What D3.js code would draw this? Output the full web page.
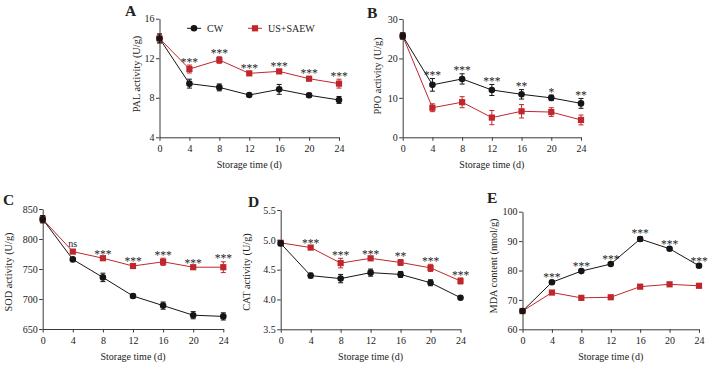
<!DOCTYPE html>
<html><head><meta charset="utf-8">
<script src="https://cdn.jsdelivr.net/npm/d3@7"></script>
<style>
html,body{margin:0;padding:0;background:#fff;}
svg text{font-family:"Liberation Serif","Times New Roman",serif;fill:#222;}
</style></head>
<body><svg id="c" width="709" height="367"></svg>
<script>
const days = [0, 4, 8, 12, 16, 20, 24];
const seriesNames = ["CW", "US+SAEW"];

const palCW = [14.0, 9.43, 9.05, 8.28, 8.85, 8.25, 7.78];
const palCWErr = [0.45, 0.45, 0.35, 0.12, 0.5, 0.2, 0.35];
const palUS = [14.0, 10.91, 11.82, 10.47, 10.67, 9.93, 9.43];
const palUSErr = [0.45, 0.4, 0.33, 0.15, 0.18, 0.2, 0.45];
const palSig = ["", "***", "***", "***", "***", "***", "***"];
const palTicks = [4, 8, 12, 16];

const ppoCW = [25.7, 13.3, 14.8, 12.0, 10.9, 10.0, 8.6];
const ppoCWErr = [0.8, 1.6, 1.3, 1.4, 1.2, 0.7, 1.25];
const ppoUS = [25.7, 7.5, 8.9, 5.0, 6.6, 6.4, 4.4];
const ppoUSErr = [0.8, 1.0, 1.4, 1.8, 1.7, 1.1, 1.25];
const ppoSig = ["", "***", "***", "***", "**", "*", "**"];
const ppoTicks = [0, 10, 20, 30];

const sodCW = [833, 766, 736, 705, 689, 673, 671];
const sodCWErr = [6, 2, 7, 3, 6, 6, 6];
const sodUS = [833, 779, 768, 755, 762, 753, 753];
const sodUSErr = [6, 2, 2, 2, 6, 2, 9];
const sodSig = ["", "ns", "***", "***", "***", "***", "***"];
const sodTicks = [650, 700, 750, 800, 850];

const catCW = [4.94, 4.40, 4.35, 4.45, 4.42, 4.28, 4.03];
const catCWErr = [0.04, 0.04, 0.07, 0.06, 0.05, 0.05, 0.02];
const catUS = [4.95, 4.87, 4.61, 4.69, 4.62, 4.53, 4.31];
const catUSErr = [0.03, 0.02, 0.08, 0.02, 0.05, 0.06, 0.05];
const catSig = ["", "***", "***", "***", "**", "***", "***"];
const catTicks = [3.5, 4.0, 4.5, 5.0, 5.5];

const mdaCW = [66.2, 76.0, 79.8, 82.2, 90.7, 87.4, 81.6];
const mdaCWErr = [0.6, 0.6, 0.5, 0.5, 0.8, 0.5, 0.6];
const mdaUS = [66.2, 72.5, 70.7, 70.9, 74.5, 75.3, 74.8];
const mdaUSErr = [0.5, 0.5, 0.4, 0.4, 0.5, 0.5, 0.5];
const mdaSig = ["", "***", "***", "***", "***", "***", "***"];
const mdaTicks = [60, 70, 80, 90, 100];

const BLACK = "#151515", RED = "#c0272d";
const svg = d3.select("#c");

const panels = [
  {label:"A", title:"PAL activity (U/g)", cw:palCW, cwE:palCWErr, us:palUS, usE:palUSErr, sig:palSig, ticks:palTicks, fmt:d3.format("d"),
   x0:159.5, x1:339, yT:18.7, yB:137.3, lx:125, ly:16, tOff:20, tCy:74, legend:true},
  {label:"B", title:"PPO activity (U/g)", cw:ppoCW, cwE:ppoCWErr, us:ppoUS, usE:ppoUSErr, sig:ppoSig, ticks:ppoTicks, fmt:d3.format("d"),
   x0:402.7, x1:581, yT:19, yB:137.3, lx:367, ly:18, tOff:22, tCy:76},
  {label:"C", title:"SOD activity (U/g)", cw:sodCW, cwE:sodCWErr, us:sodUS, usE:sodUSErr, sig:sodSig, ticks:sodTicks, fmt:d3.format("d"),
   x0:42.7, x1:223.3, yT:209, yB:329, lx:3, ly:205, tOff:30.5, tCy:272},
  {label:"D", title:"CAT activity (U/g)", cw:catCW, cwE:catCWErr, us:catUS, usE:catUSErr, sig:catSig, ticks:catTicks, fmt:d3.format(".1f"),
   x0:280.7, x1:460.5, yT:210, yB:329.3, lx:248, ly:207, tOff:30.5, tCy:272},
  {label:"E", title:"MDA content (nmol/g)", cw:mdaCW, cwE:mdaCWErr, us:mdaUS, usE:mdaUSErr, sig:mdaSig, ticks:mdaTicks, fmt:d3.format("d"),
   x0:522.5, x1:699, yT:211.7, yB:329.3, lx:487, ly:203, tOff:25.5, tCy:266}
];

function square(g, x, y, s, col){
  g.append("rect").attr("x", x - s/2).attr("y", y - s/2).attr("width", s).attr("height", s).attr("fill", col);
}

panels.forEach(p => {
  const g = svg.append("g");
  const x = d3.scaleLinear().domain([0, 24]).range([p.x0, p.x1]);
  const y = d3.scaleLinear().domain([p.ticks[0], p.ticks[p.ticks.length-1]]).range([p.yB, p.yT]);

  const ya = g.append("g").attr("transform", `translate(${p.x0},0)`)
    .call(d3.axisLeft(y).tickValues(p.ticks).tickFormat(p.fmt).tickSize(3.5).tickSizeOuter(0).tickPadding(1.5));
  const xa = g.append("g").attr("transform", `translate(0,${p.yB})`)
    .call(d3.axisBottom(x).tickValues(days).tickSize(3.5).tickSizeOuter(0).tickPadding(4));
  [ya, xa].forEach(a => {
    a.selectAll("path,line").attr("stroke", "#3a3a3a").attr("stroke-width", 1);
    a.selectAll("text").attr("font-size", 10).style("font-family", '"Liberation Serif",serif').attr("fill", "#222");
  });

  g.append("text").attr("x", p.lx).attr("y", p.ly).attr("font-size", 15.5).attr("font-weight", "bold").attr("fill", "#111").text(p.label);
  g.append("text").attr("transform", `translate(${p.x0 - p.tOff},${p.tCy}) rotate(-90)`)
    .attr("text-anchor", "middle").attr("font-size", 10.3).text(p.title);
  g.append("text").attr("x", (p.x0 + p.x1) / 2).attr("y", p.yB + 30.5)
    .attr("text-anchor", "middle").attr("font-size", 10).text("Storage time (d)");

  const line = d3.line().x((d, i) => x(days[i])).y(d => y(d));
  const series = [
    {v: p.us, e: p.usE, col: RED, shape: "sq"},
    {v: p.cw, e: p.cwE, col: BLACK, shape: "ci"}
  ];
  series.forEach(s => {
    g.append("path").datum(s.v).attr("d", line).attr("fill", "none").attr("stroke", s.col).attr("stroke-width", 1);
  });
  series.forEach(s => {
    s.v.forEach((v, i) => {
      const cx = x(days[i]);
      const yt = y(v + s.e[i]), yb = y(v - s.e[i]);
      g.append("line").attr("x1", cx).attr("x2", cx).attr("y1", yt).attr("y2", yb).attr("stroke", s.col).attr("stroke-width", 1);
      g.append("line").attr("x1", cx - 2.5).attr("x2", cx + 2.5).attr("y1", yt).attr("y2", yt).attr("stroke", s.col).attr("stroke-width", 1);
      g.append("line").attr("x1", cx - 2.5).attr("x2", cx + 2.5).attr("y1", yb).attr("y2", yb).attr("stroke", s.col).attr("stroke-width", 1);
      if (s.shape === "sq") square(g, cx, y(v), 6.2, s.col);
      else g.append("circle").attr("cx", cx).attr("cy", y(v)).attr("r", 3.3).attr("fill", s.col);
    });
  });

  p.sig.forEach((t, i) => {
    if (!t) return;
    const top = Math.max(p.cw[i] + p.cwE[i], p.us[i] + p.usE[i]);
    const isNs = t === "ns";
    g.append("text").attr("x", x(days[i])).attr("y", y(top) + (isNs ? -3 : 0.5))
      .attr("text-anchor", "middle").attr("font-size", isNs ? 10 : 11.5).attr("fill", "#2a2a2a").text(t);
  });

  if (p.legend) {
    const ly = 28.3;
    g.append("line").attr("x1", 187).attr("x2", 201).attr("y1", ly).attr("y2", ly).attr("stroke", BLACK);
    g.append("circle").attr("cx", 194).attr("cy", ly).attr("r", 3.3).attr("fill", BLACK);
    g.append("text").attr("x", 207).attr("y", ly + 3.5).attr("font-size", 10).text(seriesNames[0]);
    g.append("line").attr("x1", 248).attr("x2", 262).attr("y1", ly).attr("y2", ly).attr("stroke", RED);
    square(g, 255, ly, 6.2, RED);
    g.append("text").attr("x", 268).attr("y", ly + 3.5).attr("font-size", 10).text(seriesNames[1]);
  }
});
</script></body></html>
